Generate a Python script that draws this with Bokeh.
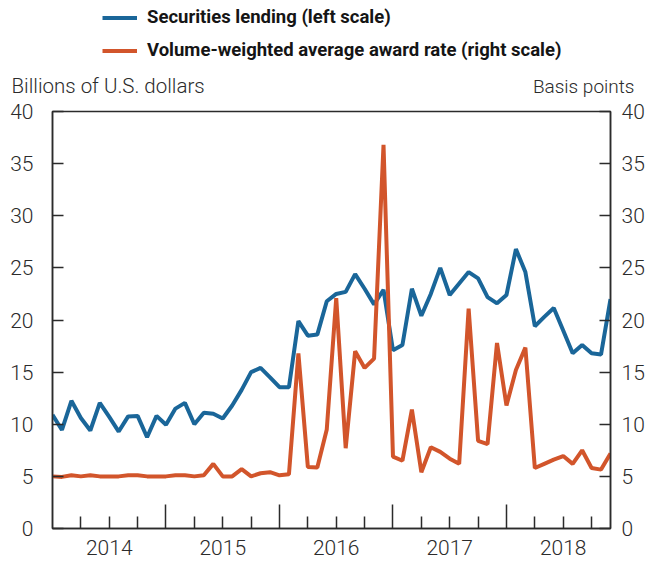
from bokeh.plotting import figure
from bokeh.layouts import column
from bokeh.models import (Range1d, LinearAxis, FixedTicker, SingleIntervalTicker,
                          Legend, LegendItem, Label, ColumnDataSource)
from bokeh.embed import file_html
from bokeh.resources import INLINE

# ---- data (monthly, Jan 2014 - Dec 2018) ----
years = ["2014", "2015", "2016", "2017", "2018"]

lending = [10.9, 9.45, 12.25, 10.6, 9.4, 12.05, 10.7, 9.3, 10.75, 10.8,
           8.75, 10.8, 9.95, 11.5, 12.05, 10.0, 11.1, 11.0, 10.55, 11.8,
           13.3, 15.0, 15.4, 14.5, 13.55, 13.55, 19.9, 18.5, 18.6, 21.8,
           22.5, 22.7, 24.4, 23.0, 21.5, 22.9, 17.1, 17.6, 23.0, 20.4,
           22.5, 25.0, 22.4, 23.5, 24.6, 24.0, 22.2, 21.6, 22.4, 26.8,
           24.6, 19.4, 20.3, 21.15, 19.0, 16.8, 17.6, 16.8, 16.7, 22.0]

award_rate = [5.0, 4.95, 5.1, 5.0, 5.1, 5.0, 5.0, 5.0, 5.1, 5.1,
              5.0, 5.0, 5.0, 5.1, 5.1, 5.0, 5.1, 6.2, 5.0, 5.0,
              5.7, 5.0, 5.3, 5.4, 5.1, 5.2, 16.8, 5.9, 5.85, 9.5,
              22.1, 7.7, 17.0, 15.4, 16.3, 36.8, 6.9, 6.5, 11.4, 5.4,
              7.8, 7.35, 6.7, 6.2, 21.1, 8.4, 8.1, 17.8, 11.8, 15.2,
              17.35, 5.8, 6.2, 6.6, 6.95, 6.2, 7.5, 5.8, 5.65, 7.2]

left_title = "Billions of U.S. dollars"
right_title = "Basis points"
series_names = ["Securities lending (left scale)",
                "Volume-weighted average award rate (right scale)"]

BLUE = "#1a6699"
ORANGE = "#d2552b"
INK = "#2b2b2b"
FONT = "Roboto Light, Roboto"

n = len(lending)
x = list(range(n))
year_starts = [12 * k for k in range(1, len(years))]
quarter_ticks = [q for q in range(3, n, 3) if q % 12 != 0]
year_centers = [12 * k + 6 for k in range(len(years))]

src = ColumnDataSource(dict(x=x, lending=lending, rate=award_rate))

W, H = 648, 565
HEAD_H = 98
FRAME_W = 558

# ================= main chart =================
p = figure(width=W, height=H - HEAD_H, x_range=Range1d(0, n - 1), y_range=Range1d(0, 40),
           output_backend="svg", toolbar_location=None,
           min_border_left=52, min_border_right=W - 52 - FRAME_W,
           min_border_top=13, min_border_bottom=37)
p.frame_align = False
p.extra_y_ranges = {"rate": Range1d(0, 40)}
p.background_fill_color = "white"
p.border_fill_color = "white"
p.xgrid.visible = False
p.ygrid.visible = False
p.outline_line_color = INK
p.outline_line_width = 1.5

# bottom axis 1: ticks only (year boundaries long, quarters short)
xa = p.below[0]
xa.ticker = FixedTicker(ticks=year_starts, minor_ticks=quarter_ticks)
xa.major_label_overrides = {t: "" for t in year_starts}
xa.major_label_text_font_size = "1px"
xa.major_label_text_color = None
xa.major_label_standoff = 0
xa.major_tick_in = 24
xa.major_tick_out = 0
xa.minor_tick_in = 12
xa.minor_tick_out = 0
xa.axis_line_color = INK
xa.axis_line_width = 1.5
xa.major_tick_line_color = INK
xa.major_tick_line_width = 1.5
xa.minor_tick_line_color = INK
xa.minor_tick_line_width = 1.5

# bottom axis 2: year labels centred in each year
ya = LinearAxis(ticker=FixedTicker(ticks=year_centers),
                major_label_overrides={c: y for c, y in zip(year_centers, years)})
ya.axis_line_color = None
ya.major_tick_line_color = None
ya.minor_tick_line_color = None
ya.major_tick_in = 0
ya.major_tick_out = 0
ya.major_label_standoff = 11
ya.major_label_text_font = FONT
ya.major_label_text_font_size = "21px"
ya.major_label_text_color = INK
p.add_layout(ya, "below")

def style_y(ax, standoff):
    ax.ticker = SingleIntervalTicker(interval=5, num_minor_ticks=0)
    ax.major_tick_in = 11
    ax.major_tick_out = 0
    ax.minor_tick_line_color = None
    ax.axis_line_color = INK
    ax.axis_line_width = 1.5
    ax.major_tick_line_color = INK
    ax.major_tick_line_width = 1.5
    ax.major_label_text_font = FONT
    ax.major_label_text_font_size = "21px"
    ax.major_label_text_color = INK
    ax.major_label_standoff = standoff

style_y(p.yaxis[0], 19)
ra = LinearAxis(y_range_name="rate")
style_y(ra, 11)
p.add_layout(ra, "right")

r1 = p.line("x", "lending", source=src, line_color=BLUE, line_width=4)
r2 = p.line("x", "rate", source=src, y_range_name="rate", line_color=ORANGE, line_width=4)

# ================= header: legend and scale titles =================
hd = figure(width=W, height=HEAD_H, x_range=Range1d(0, W), y_range=Range1d(HEAD_H, 0),
            output_backend="svg", toolbar_location=None,
            x_axis_location=None, y_axis_location=None,
            min_border=0, outline_line_color=None)
hd.frame_align = False
hd.grid.visible = False
hd.background_fill_color = "white"
hd.border_fill_color = "white"
# legend entries take their line style from renderers of the same series,
# drawn on a range that keeps them out of the header's view
hd.extra_y_ranges = {"off": Range1d(1000, 2000)}
h1 = hd.line("x", "lending", source=src, line_color=BLUE, line_width=4, y_range_name="off")
h2 = hd.line("x", "rate", source=src, line_color=ORANGE, line_width=4, y_range_name="off")

legend = Legend(items=[LegendItem(label=series_names[0], renderers=[h1]),
                       LegendItem(label=series_names[1], renderers=[h2])],
                location=(102, 37), orientation="vertical",
                glyph_width=35, glyph_height=21, label_height=21, label_standoff=10,
                spacing=11, padding=0, margin=0,
                label_text_font="Roboto", label_text_font_style="bold",
                label_text_font_size="18.5px", label_text_color="#151515",
                background_fill_alpha=0, border_line_alpha=0)
hd.add_layout(legend)

hd.add_layout(Label(x=11, y=85.8, text=left_title, text_align="left",
                    text_baseline="middle", text_font=FONT,
                    text_font_size="20.5px", text_color=INK))
hd.add_layout(Label(x=634, y=86.3, text=right_title, text_align="right",
                    text_baseline="middle", text_font=FONT,
                    text_font_size="19px", text_color=INK))

layout = column(hd, p, spacing=0)
open("out.html", "w").write(file_html(layout, INLINE))
